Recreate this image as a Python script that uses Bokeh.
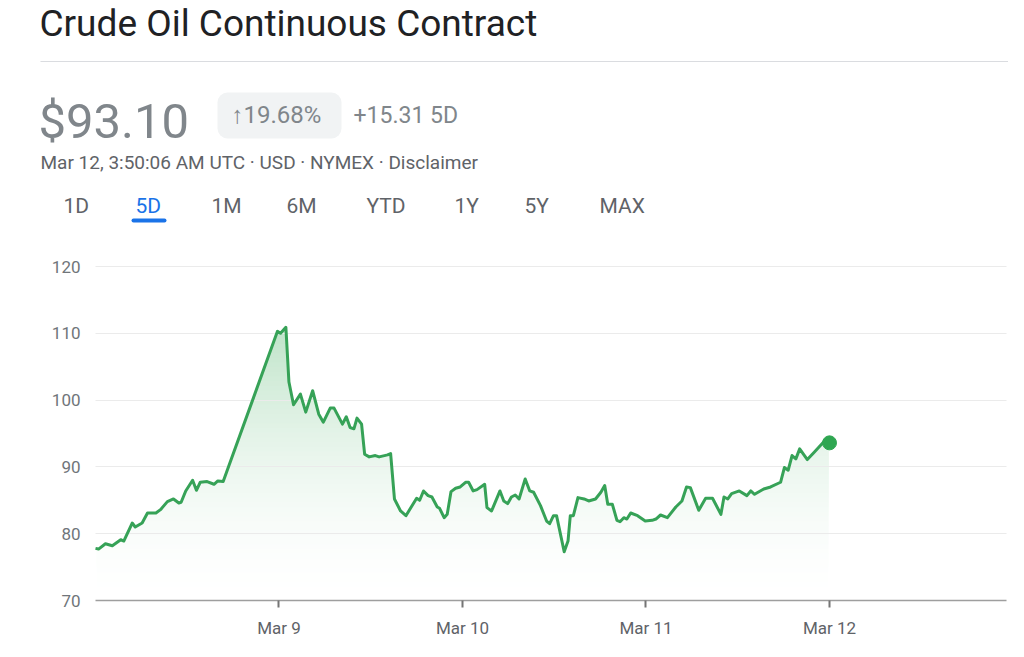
from bokeh.plotting import figure
from bokeh.layouts import column
from bokeh.models import Label, BoxAnnotation, FixedTicker, Range1d
from bokeh.embed import file_html
from bokeh.resources import INLINE

# ---------------- data (hours since Mar 8 00:00 UTC, price USD) ----------------
hours = [0.0, 0.4, 1.3, 2.2, 3.3, 3.7, 4.8, 5.2, 6.1, 6.8, 7.9, 8.5, 9.4, 10.2, 10.9, 11.2,
         11.8, 12.7, 13.2, 13.7, 14.6, 15.5, 16.0, 16.7, 23.8, 24.2, 24.9, 25.3, 25.9, 26.8,
         27.5, 28.4, 29.2, 29.8, 30.7, 31.2, 32.3, 32.8, 33.3, 33.8, 34.2, 34.8, 35.2, 35.8,
         36.6, 37.1, 38.2, 38.6, 39.1, 39.9, 40.6, 42.0, 42.4, 42.9, 43.5, 44.0, 44.7, 45.0,
         45.6, 46.0, 46.5, 47.1, 47.7, 48.4, 48.8, 49.4, 49.9, 50.9, 51.2, 51.8, 52.9, 53.4,
         53.9, 54.4, 54.9, 55.4, 56.2, 56.8, 57.3, 58.2, 59.0, 59.4, 59.9, 60.3, 61.3, 61.8,
         62.1, 62.5, 63.1, 63.9, 64.5, 65.4, 66.1, 66.6, 67.0, 67.6, 68.2, 68.6, 69.1, 69.5,
         70.0, 70.9, 71.9, 72.8, 73.3, 73.9, 74.8, 75.9, 76.7, 77.3, 77.8, 78.9, 79.8, 80.7,
         81.8, 82.2, 82.7, 83.2, 84.2, 85.2, 85.7, 86.2, 87.4, 88.3, 89.6, 90.1, 90.6, 91.1,
         91.6, 92.1, 93.1, 94.0, 95.2, 96.0]
prices = [77.8, 77.7, 78.5, 78.2, 79.1, 78.9, 81.6, 81.0, 81.6, 83.1, 83.1, 83.6, 84.8, 85.2, 84.6, 84.7,
          86.4, 88.0, 86.5, 87.7, 87.8, 87.4, 87.9, 87.8, 110.3, 110.0, 110.9, 102.7, 99.3, 100.9,
          98.2, 101.4, 97.9, 96.7, 98.8, 98.8, 96.4, 97.5, 95.9, 95.7, 97.3, 96.4, 91.9, 91.5,
          91.7, 91.5, 91.8, 92.0, 85.2, 83.4, 82.7, 85.3, 85.0, 86.4, 85.7, 85.5, 84.0, 83.8,
          82.4, 82.9, 86.3, 86.8, 87.0, 87.7, 87.7, 86.4, 86.6, 87.4, 83.9, 83.4, 86.4, 84.9,
          84.5, 85.5, 85.8, 85.2, 88.2, 86.4, 86.2, 84.2, 81.9, 81.5, 82.7, 82.7, 77.3, 78.9,
          82.7, 82.7, 85.4, 85.2, 84.9, 85.2, 86.2, 87.2, 84.4, 84.4, 82.0, 81.8, 82.4, 82.2,
          83.1, 82.7, 81.9, 82.0, 82.2, 82.8, 82.4, 84.0, 84.9, 87.0, 86.9, 83.5, 85.3, 85.3,
          82.9, 85.5, 85.2, 86.0, 86.4, 85.7, 86.4, 85.9, 86.7, 87.0, 87.7, 89.9, 89.5, 91.7,
          91.2, 92.7, 91.1, 92.2, 93.7, 93.6]

y_ticks = [70, 80, 90, 100, 110, 120]
x_tick_hours = [24, 48, 72, 96]
x_tick_labels = ["Mar 9", "Mar 10", "Mar 11", "Mar 12"]

title_text = "Crude Oil Continuous Contract"
price_text = "$93.10"
change_pct_text = "\u219119.68%"
change_abs_text = "+15.31 5D"
meta_text = "Mar 12, 3:50:06 AM UTC \u00b7 USD \u00b7 NYMEX \u00b7 Disclaimer"
tabs = ["1D", "5D", "1M", "6M", "YTD", "1Y", "5Y", "MAX"]
active_tab = "5D"

# ---------------- styling ----------------
GREEN = "#36a257"
DOT = "#2fa651"
FONT = "Roboto"
W = 1008
HEAD_H = 240
CHART_H = 401

# ================= header (pixel-like data coordinates, y downward) =================
hd = figure(width=W, height=HEAD_H, output_backend="svg", toolbar_location=None,
            x_range=Range1d(0, W), y_range=Range1d(HEAD_H, 0),
            x_axis_location=None, y_axis_location=None,
            min_border=0, min_border_left=0, min_border_right=0,
            min_border_top=0, min_border_bottom=0)
hd.outline_line_color = None
hd.grid.visible = False
hd.frame_align = False


def lab(text, x, baseline_y, size, color):
    # Bokeh's 'middle' sits ~0.345 em above the alphabetic baseline for Roboto
    hd.add_layout(Label(x=x, y=baseline_y - 0.345 * size, text=text, text_font=FONT,
                        text_font_size=f"{size}px", text_color=color,
                        text_align="left", text_baseline="middle"))


def box(l, r, t, b, color, radius=0):
    hd.add_layout(BoxAnnotation(left=l, right=r, top=t, bottom=b, fill_color=color,
                                fill_alpha=1, line_color=None, border_radius=radius))


lab(title_text, 39, 36, 37, "#202124")
box(40, W, 60.5, 61.5, "#dadce0")
lab(price_text, 38, 138, 49, "#80868b")
box(217, 341, 92, 138, "#f1f3f4", radius=10)
lab(change_pct_text, 231, 123, 24, "#80868b")
lab(change_abs_text, 353, 123, 23, "#80868b")
lab(meta_text, 40, 169, 19, "#5f6368")

tab_x = [63, 135, 211, 286, 366, 454, 524, 599]
for t, tx in zip(tabs, tab_x):
    lab(t, tx, 213, 21, "#1a73e8" if t == active_tab else "#5f6368")
box(131, 166, 218, 222, "#1a73e8", radius=2)

# ================= chart =================
p = figure(width=W, height=CHART_H, output_backend="svg", toolbar_location=None,
           x_range=Range1d(0, 119.15), y_range=Range1d(70, 120.3),
           min_border_left=95, min_border_right=2, min_border_top=24, min_border_bottom=41)
p.outline_line_color = None
p.frame_align = False

# gradient fill: nested opaque quads (lighter at bottom, greener toward the top)
g_rgb = (0x34, 0xa8, 0x53)
top_level = max(prices) + 1.0
n_steps = 60
step = (top_level - 70) / n_steps
bottoms, colors = [], []
for i in range(n_steps):
    lo = 70 + i * step
    t = (lo + step / 2 - 70) / (top_level - 70)
    a = 0.33 * t ** 1.7
    c = tuple(int(round(255 * (1 - a) + g * a)) for g in g_rgb)
    bottoms.append(lo)
    colors.append("#%02x%02x%02x" % c)
inset = 0.15
p.quad(left=hours[0] + inset, right=hours[-1] - inset, bottom=bottoms, top=top_level,
       fill_color=colors, line_color=None)
# white mask above the price line
p.varea(x=hours, y1=prices, y2=120.3, fill_color="white")

line_r = p.line(hours, prices, line_color=GREEN, line_width=3, line_join="round")
line_r.level = "overlay"
dot_r = p.scatter([hours[-1]], [prices[-1]], size=14, fill_color=DOT, line_color=DOT)
dot_r.level = "overlay"

p.xgrid.visible = False
p.ygrid.ticker = FixedTicker(ticks=y_ticks[1:])
p.ygrid.grid_line_color = "#ebebeb"
p.ygrid.grid_line_width = 1
p.ygrid.level = "guide"

p.yaxis.ticker = FixedTicker(ticks=y_ticks)
p.yaxis.axis_line_color = None
p.yaxis.major_tick_line_color = None
p.yaxis.minor_tick_line_color = None
p.yaxis.major_label_standoff = 9
p.yaxis.major_label_text_font = FONT
p.yaxis.major_label_text_font_size = "17px"
p.yaxis.major_label_text_color = "#70757a"

p.xaxis.ticker = FixedTicker(ticks=x_tick_hours)
p.xaxis.major_label_overrides = {h: t for h, t in zip(x_tick_hours, x_tick_labels)}
p.xaxis.axis_line_color = "#9e9e9e"
p.xaxis.axis_line_width = 1.5
p.xaxis.major_tick_line_color = "#757575"
p.xaxis.major_tick_line_width = 2
p.xaxis.major_tick_in = 0
p.xaxis.major_tick_out = 7
p.xaxis.minor_tick_line_color = None
p.xaxis.major_label_standoff = 10
p.xaxis.major_label_text_font = FONT
p.xaxis.major_label_text_font_size = "17px"
p.xaxis.major_label_text_color = "#5f6368"

open("out.html", "w").write(file_html(column(hd, p), INLINE))
